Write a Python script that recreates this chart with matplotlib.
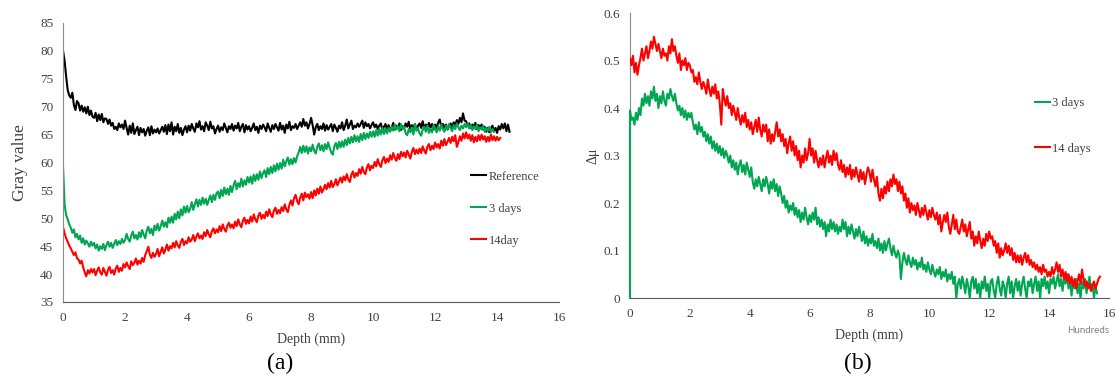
import numpy as np
import matplotlib
matplotlib.use("Agg")
import matplotlib.pyplot as plt
from matplotlib.ticker import MultipleLocator

plt.rcParams['font.family'] = ['Liberation Serif', 'DejaVu Serif']

# ---------------- data ----------------
DEPTH_STEP = 0.05   # mm between profile samples

# (a) gray value profiles (one row = 0.5 mm)
gray_reference = [
    80.0, 78.2, 75.4, 73.0, 72.0, 71.6, 72.5, 70.3, 69.4, 71.0,
    70.6, 69.3, 70.2, 69.1, 69.9, 68.8, 70.0, 68.5, 69.3, 68.2,
    68.0, 68.9, 67.4, 68.6, 67.6, 68.7, 67.2, 67.9, 67.8, 66.9,
    67.7, 66.6, 67.1, 66.0, 66.4, 65.8, 67.0, 66.3, 66.8, 66.0,
    67.5, 66.2, 65.0, 66.6, 65.3, 67.0, 65.1, 65.8, 66.4, 64.9,
    66.2, 65.4, 66.0, 64.8, 65.7, 66.3, 64.9, 66.5, 65.2, 65.9,
    65.4, 66.1, 65.2, 65.8, 66.4, 65.5, 66.7, 65.1, 66.8, 65.6,
    67.2, 65.0, 66.4, 65.6, 66.9, 65.3, 66.2, 64.9, 65.9, 66.5,
    65.4, 66.6, 65.7, 66.9, 66.1, 65.5, 67.0, 66.3, 67.4, 65.9,
    66.5, 65.6, 67.2, 66.6, 65.8, 67.3, 66.1, 66.5, 65.2, 66.0,
    66.6, 65.5, 66.3, 65.8, 67.0, 66.2, 65.4, 66.5, 66.0, 66.9,
    65.7, 66.6, 66.1, 67.1, 65.6, 66.4, 66.9, 65.4, 66.7, 65.9,
    66.5, 65.6, 66.2, 67.0, 65.8, 66.4, 65.3, 66.6, 66.0, 66.8,
    66.3, 65.6, 67.0, 66.2, 65.5, 66.7, 66.0, 66.9, 66.3, 65.7,
    67.1, 65.9, 66.6, 65.3, 66.8, 66.1, 67.3, 65.8, 66.5, 66.2,
    66.9, 66.0, 66.6, 67.2, 66.4, 67.8, 66.6, 67.2, 66.1, 66.9,
    68.0, 66.7, 65.0, 66.3, 66.9, 65.8, 66.5, 66.0, 67.0, 65.7,
    66.7, 65.9, 66.4, 66.9, 65.6, 66.8, 66.2, 65.5, 66.6, 66.1,
    67.2, 65.8, 66.6, 67.7, 66.1, 66.8, 67.5, 66.0, 66.6, 66.3,
    67.0, 66.4, 66.9, 67.5, 66.2, 67.2, 66.5, 66.9, 66.1, 66.7,
    67.2, 66.3, 66.8, 66.0, 66.6, 67.0, 65.8, 66.4, 66.9, 66.0,
    66.7, 65.7, 66.3, 67.1, 65.9, 66.6, 66.2, 67.0, 65.8, 66.5,
    66.2, 67.0, 66.4, 67.3, 65.9, 66.7, 66.1, 66.9, 65.8, 66.6,
    67.0, 66.2, 67.4, 66.0, 66.8, 66.4, 67.1, 66.2, 66.9, 65.9,
    66.8, 66.1, 67.2, 67.7, 66.3, 66.9, 66.2, 66.8, 65.9, 66.5,
    67.0, 66.3, 67.2, 66.6, 67.6, 66.9, 68.0, 67.2, 68.8, 67.5,
    67.4, 66.6, 67.0, 66.2, 66.8, 66.4, 67.1, 66.0, 66.7, 66.3,
    66.8, 65.9, 66.4, 65.5, 66.2, 65.4, 66.0, 66.6, 65.6, 66.2,
    65.3, 66.5, 65.9, 66.9, 66.1, 67.0, 65.6, 66.8, 65.5,
]
gray_3days = [
    59.2, 52.4, 50.6, 49.8, 48.9, 48.3, 47.4, 48.0, 46.6, 47.2,
    46.2, 46.9, 45.6, 46.4, 45.3, 46.0, 45.5, 44.9, 45.8, 45.1,
    45.6, 44.6, 45.3, 44.2, 45.0, 44.5, 45.4, 44.3, 45.2, 45.8,
    44.9, 45.6, 44.7, 45.4, 46.1, 45.2, 45.9, 45.4, 46.3, 45.6,
    46.1, 47.2, 46.3, 45.8, 46.9, 47.6, 46.4, 47.0, 46.2, 47.5,
    46.6, 47.9, 47.1, 46.4, 47.8, 48.5, 47.3, 48.1, 47.0, 48.7,
    47.9, 49.0, 47.8, 48.6, 49.6, 48.5, 49.3, 48.4, 50.1, 49.2,
    50.3, 49.2, 50.8, 49.8, 51.2, 50.0, 51.6, 50.5, 52.1, 51.0,
    52.2, 51.1, 51.7, 52.9, 51.5, 52.5, 53.4, 52.1, 53.3, 52.4,
    53.7, 52.6, 53.5, 52.4, 53.3, 54.1, 52.9, 54.2, 53.3, 54.5,
    54.8, 53.6, 55.1, 54.0, 55.5, 54.3, 55.3, 54.2, 55.8, 54.7,
    55.9, 56.7, 55.2, 56.3, 55.6, 57.1, 55.7, 56.8, 56.0, 57.4,
    56.4, 57.5, 56.2, 57.8, 56.7, 57.9, 56.9, 58.4, 57.2, 58.1,
    58.6, 57.4, 59.0, 57.9, 59.2, 58.1, 59.5, 58.4, 59.8, 58.7,
    59.9, 58.9, 60.5, 59.3, 60.2, 60.9, 59.6, 60.6, 59.7, 60.8,
    60.0, 61.1, 61.8, 62.8, 61.7, 63.0, 61.9, 62.9, 61.6, 62.7,
    62.0, 63.2, 62.1, 61.6, 62.8, 63.4, 62.2, 63.1, 62.0, 63.3,
    62.4, 63.6, 62.6, 61.8, 61.4, 62.9, 63.5, 62.4, 63.7, 62.7,
    63.8, 62.8, 64.1, 63.1, 64.4, 63.4, 64.6, 63.6, 64.9, 63.8,
    64.7, 63.7, 65.1, 64.0, 65.3, 64.2, 65.2, 64.4, 65.5, 64.6,
    65.6, 64.6, 65.8, 64.8, 66.0, 65.0, 66.2, 65.1, 66.1, 65.2,
    66.2, 65.5, 66.4, 65.7, 66.8, 65.9, 66.5, 65.6, 66.9, 66.0,
    66.4, 65.2, 64.9, 66.0, 65.4, 66.3, 65.0, 66.9, 65.7, 66.1,
    65.2, 64.8, 65.9, 66.4, 65.5, 66.6, 65.3, 66.0, 65.4, 66.7,
    66.1, 65.4, 66.5, 65.7, 66.8, 66.0, 65.5, 66.6, 65.9, 66.9,
    66.2, 65.6, 66.7, 66.0, 67.0, 66.3, 65.8, 66.6, 66.1, 66.9,
    66.3, 67.0, 66.1, 66.7, 65.8, 66.5, 66.0, 66.8, 65.6, 66.3,
    65.9, 66.6, 65.5, 66.2, 65.7, 66.4, 65.4, 66.0, 65.5,
]
gray_14day = [
    48.4, 47.3, 46.4, 45.8, 45.1, 44.6, 44.0, 43.4, 43.9, 42.8,
    42.6, 41.9, 42.4, 41.2, 40.3, 39.6, 40.7, 40.1, 40.9, 40.3,
    40.9, 39.8, 40.6, 41.2, 40.3, 39.9, 41.1, 40.4, 39.7, 40.8,
    41.3, 40.2, 40.7, 39.9, 41.0, 41.5, 40.4, 41.1, 40.6, 41.8,
    41.2, 42.1, 41.4, 40.9, 42.3, 41.6, 42.0, 42.8, 41.7, 42.4,
    41.9, 42.9, 42.2, 43.4, 44.1, 44.9, 43.5, 42.9, 43.8, 43.1,
    43.6, 44.5, 43.2, 44.0, 44.8, 43.7, 44.4, 45.3, 44.2, 45.0,
    44.6, 45.6, 44.8, 45.9, 45.1, 44.7, 45.8, 46.3, 45.2, 45.9,
    45.5, 46.6, 45.8, 46.2, 47.0, 45.9, 46.7, 47.3, 46.4, 46.9,
    46.3, 47.5, 46.8, 47.9, 47.1, 46.6, 47.7, 48.2, 47.3, 48.0,
    47.5, 48.6, 47.7, 48.9, 48.1, 47.6, 48.7, 49.2, 48.3, 48.9,
    48.2, 49.4, 48.6, 49.8, 48.9, 48.4, 49.6, 50.1, 49.0, 49.7,
    49.1, 50.3, 49.4, 50.7, 49.8, 49.3, 50.5, 51.0, 49.9, 50.6,
    50.0, 51.2, 50.4, 51.6, 50.7, 50.2, 51.4, 51.9, 50.8, 51.5,
    50.9, 52.0, 51.3, 52.5, 51.6, 51.1, 52.4, 53.2, 52.3, 53.6,
    54.2, 53.1, 52.5, 53.7, 54.4, 53.2, 54.6, 53.8, 54.3, 53.5,
    54.7, 53.6, 55.0, 54.1, 55.3, 54.4, 55.7, 54.6, 55.2, 56.0,
    55.2, 56.3, 55.5, 56.7, 55.6, 56.1, 57.0, 55.9, 56.6, 57.3,
    56.4, 57.5, 56.8, 57.9, 57.0, 56.5, 57.8, 58.4, 57.3, 58.1,
    57.6, 58.8, 58.0, 59.2, 58.3, 57.9, 59.1, 59.7, 58.6, 59.4,
    59.0, 60.1, 59.3, 60.6, 59.7, 59.2, 60.4, 61.0, 59.9, 60.7,
    60.1, 61.3, 60.5, 61.7, 60.8, 60.3, 61.5, 60.6, 61.9, 61.1,
    61.8, 60.9, 62.1, 61.4, 60.7, 61.9, 62.6, 61.5, 62.3, 61.6,
    62.5, 61.7, 62.9, 62.1, 61.6, 62.8, 63.3, 62.2, 63.0, 62.4,
    63.6, 62.7, 63.3, 62.5, 63.9, 63.0, 64.2, 63.1, 63.7, 64.4,
    63.5, 64.6, 63.8, 64.9, 62.8, 63.6, 64.7, 63.9, 65.2, 64.3,
    65.4, 64.3, 65.0, 63.9, 64.9, 63.6, 64.6, 63.8, 64.9, 64.0,
    65.0, 64.1, 64.7, 63.7, 64.6, 63.8, 65.0, 64.0, 64.7, 63.9,
    64.6, 64.0, 64.4,
]

# (b) attenuation difference profiles (one row = 0.5 mm)
dmu_3days = [
    0.395, 0.375, 0.38, 0.365, 0.39, 0.375, 0.40, 0.385, 0.42, 0.405,
    0.43, 0.41, 0.425, 0.405, 0.435, 0.42, 0.445, 0.415, 0.43, 0.40,
    0.425, 0.41, 0.435, 0.415, 0.405, 0.43, 0.42, 0.44, 0.425, 0.415,
    0.43, 0.41, 0.395, 0.405, 0.385, 0.40, 0.38, 0.395, 0.375, 0.39,
    0.38, 0.39, 0.37, 0.355, 0.365, 0.345, 0.37, 0.35, 0.36, 0.34,
    0.35, 0.33, 0.345, 0.325, 0.34, 0.315, 0.33, 0.31, 0.325, 0.305,
    0.32, 0.30, 0.315, 0.295, 0.31, 0.30, 0.285, 0.30, 0.275, 0.29,
    0.27, 0.285, 0.26, 0.28, 0.29, 0.265, 0.28, 0.26, 0.285, 0.27,
    0.255, 0.275, 0.245, 0.23, 0.25, 0.235, 0.255, 0.24, 0.225, 0.25,
    0.235, 0.255, 0.24, 0.22, 0.245, 0.23, 0.25, 0.225, 0.24, 0.215,
    0.235, 0.22, 0.20, 0.215, 0.19, 0.205, 0.18, 0.195, 0.185, 0.20,
    0.175, 0.19, 0.17, 0.185, 0.16, 0.18, 0.165, 0.19, 0.17, 0.155,
    0.175, 0.16, 0.18, 0.165, 0.19, 0.155, 0.17, 0.15, 0.165, 0.145,
    0.16, 0.13, 0.155, 0.14, 0.165, 0.145, 0.16, 0.14, 0.155, 0.135,
    0.15, 0.14, 0.165, 0.145, 0.16, 0.13, 0.15, 0.135, 0.155, 0.14,
    0.125, 0.145, 0.13, 0.15, 0.135, 0.12, 0.14, 0.115, 0.13, 0.11,
    0.125, 0.115, 0.135, 0.11, 0.12, 0.105, 0.125, 0.10, 0.115, 0.095,
    0.12, 0.10, 0.115, 0.125, 0.105, 0.09, 0.11, 0.095, 0.085, 0.10,
    0.09, 0.04, 0.075, 0.095, 0.08, 0.07, 0.09, 0.075, 0.065, 0.085,
    0.07, 0.08, 0.06, 0.075, 0.065, 0.085, 0.06, 0.07, 0.055, 0.075,
    0.06, 0.05, 0.07, 0.055, 0.045, 0.06, 0.05, 0.065, 0.04, 0.055,
    0.045, 0.06, 0.035, 0.05, 0.04, 0.055, 0.03, 0.045, 0.0, 0.03,
    0.04, 0.02, 0.045, 0.03, 0.01, 0.04, 0.025, 0.0, 0.035, 0.045,
    0.02, 0.04, 0.01, 0.03, 0.0, 0.035, 0.02, 0.045, 0.015, 0.03,
    0.0, 0.035, 0.04, 0.015, 0.0, 0.03, 0.045, 0.02, 0.005, 0.035,
    0.025, 0.0, 0.03, 0.045, 0.01, 0.035, 0.0, 0.025, 0.04, 0.015,
    0.035, 0.005, 0.03, 0.045, 0.02, 0.0, 0.035, 0.025, 0.04, 0.01,
    0.03, 0.045, 0.015, 0.035, 0.0, 0.04, 0.025, 0.045, 0.02, 0.035,
    0.01, 0.04, 0.03, 0.045, 0.02, 0.035, 0.05, 0.025, 0.04, 0.015,
    0.045, 0.03, 0.05, 0.02, 0.04, 0.005, 0.035, 0.02, 0.04, 0.01,
    0.03, 0.0, 0.035, 0.02, 0.04, 0.01, 0.03, 0.045, 0.015, 0.03,
    0.0, 0.025, 0.01,
]
dmu_14days = [
    0.505, 0.49, 0.51, 0.475, 0.495, 0.47, 0.49, 0.505, 0.525, 0.50,
    0.515, 0.53, 0.505, 0.52, 0.54, 0.525, 0.55, 0.535, 0.52, 0.535,
    0.52, 0.505, 0.525, 0.51, 0.515, 0.50, 0.53, 0.515, 0.545, 0.52,
    0.53, 0.51, 0.495, 0.515, 0.48, 0.50, 0.49, 0.505, 0.48, 0.495,
    0.49, 0.475, 0.48, 0.455, 0.465, 0.45, 0.475, 0.455, 0.44, 0.455,
    0.445, 0.43, 0.46, 0.44, 0.425, 0.445, 0.43, 0.45, 0.42, 0.435,
    0.41, 0.365, 0.44, 0.42, 0.405, 0.425, 0.40, 0.41, 0.385, 0.405,
    0.39, 0.375, 0.40, 0.38, 0.365, 0.385, 0.37, 0.39, 0.36, 0.375,
    0.355, 0.37, 0.345, 0.36, 0.375, 0.35, 0.38, 0.355, 0.34, 0.365,
    0.35, 0.365, 0.33, 0.355, 0.325, 0.345, 0.33, 0.35, 0.37, 0.34,
    0.355, 0.33, 0.345, 0.32, 0.335, 0.305, 0.325, 0.34, 0.31, 0.33,
    0.30, 0.32, 0.29, 0.31, 0.275, 0.30, 0.285, 0.315, 0.29, 0.305,
    0.335, 0.30, 0.315, 0.285, 0.31, 0.29, 0.275, 0.295, 0.28, 0.30,
    0.275, 0.295, 0.31, 0.285, 0.30, 0.28, 0.31, 0.29, 0.305, 0.28,
    0.27, 0.29, 0.265, 0.28, 0.255, 0.275, 0.26, 0.28, 0.25, 0.27,
    0.255, 0.275, 0.26, 0.245, 0.27, 0.25, 0.265, 0.24, 0.26, 0.275,
    0.265, 0.245, 0.27, 0.25, 0.235, 0.255, 0.22, 0.205, 0.23, 0.21,
    0.235, 0.22, 0.245, 0.225, 0.25, 0.235, 0.26, 0.24, 0.25, 0.225,
    0.245, 0.22, 0.235, 0.205, 0.22, 0.19, 0.21, 0.18, 0.20, 0.185,
    0.195, 0.175, 0.20, 0.185, 0.17, 0.19, 0.175, 0.195, 0.18, 0.165,
    0.185, 0.17, 0.19, 0.175, 0.165, 0.18, 0.155, 0.175, 0.14, 0.16,
    0.175, 0.16, 0.18, 0.15, 0.135, 0.155, 0.175, 0.145, 0.165, 0.14,
    0.135, 0.15, 0.165, 0.14, 0.155, 0.13, 0.145, 0.16, 0.125, 0.14,
    0.11, 0.13, 0.115, 0.14, 0.12, 0.105, 0.125, 0.11, 0.135, 0.12,
    0.14, 0.125, 0.13, 0.11, 0.12, 0.095, 0.115, 0.085, 0.105, 0.09,
    0.10, 0.115, 0.095, 0.11, 0.09, 0.105, 0.08, 0.095, 0.075, 0.09,
    0.075, 0.09, 0.07, 0.085, 0.095, 0.075, 0.09, 0.07, 0.08, 0.065,
    0.075, 0.06, 0.07, 0.055, 0.065, 0.05, 0.07, 0.055, 0.06, 0.045,
    0.055, 0.045, 0.065, 0.05, 0.06, 0.075, 0.055, 0.07, 0.045, 0.06,
    0.04, 0.055, 0.035, 0.05, 0.03, 0.045, 0.025, 0.04, 0.02, 0.035,
    0.05, 0.03, 0.06, 0.04, 0.025, 0.035, 0.02, 0.03, 0.015, 0.025,
    0.035, 0.02, 0.03, 0.04, 0.045,
]

x_ticks = [0, 2, 4, 6, 8, 10, 12, 14, 16]

BLACK = '#000000'
GREEN = '#00a651'
RED = '#ff0000'
TXT = '#404040'
LW = 1.5


def depth(values):
    return np.arange(len(values)) * DEPTH_STEP


def style_axes(ax):
    for s in ('top', 'right'):
        ax.spines[s].set_visible(False)
    ax.spines['left'].set_color('#8c8c8c')
    ax.spines['bottom'].set_color('#595959')
    ax.tick_params(length=0, labelsize=9.5, colors=TXT, pad=7)
    ax.set_xlim(0, 16)
    ax.set_xticks(x_ticks)


fig = plt.figure(figsize=(11.16, 3.83), dpi=100)

# ---------------- (a) ----------------
ax1 = fig.add_axes([0.0565, 0.2115, 0.4445, 0.7285])
ax1.plot(depth(gray_reference), gray_reference, color=BLACK, lw=LW, label='Reference')
ax1.plot(depth(gray_3days), gray_3days, color=GREEN, lw=LW, label='3 days')
ax1.plot(depth(gray_14day), gray_14day, color=RED, lw=LW, label='14day')
style_axes(ax1)
ax1.set_ylim(35, 85)
ax1.yaxis.set_major_locator(MultipleLocator(5))
ax1.set_ylabel('Gray value', fontsize=12.5, color=TXT, labelpad=9)
ax1.set_xlabel('Depth (mm)', fontsize=10, color=TXT, labelpad=6)
ax1.legend(loc='upper left', bbox_to_anchor=(0.4165, 0.571), bbox_transform=fig.transFigure,
           frameon=False, fontsize=9, handlelength=1.2, handletextpad=0.2,
           labelspacing=1.6, borderpad=0, labelcolor=TXT)

# ---------------- (b) ----------------
ax2 = fig.add_axes([0.5645, 0.2219, 0.4292, 0.7441])
# green profile rises from zero right at the surface
ax2.plot(np.concatenate([[0.0], depth(dmu_3days)]), [0.0] + dmu_3days,
         color=GREEN, lw=LW, label='3 days', zorder=3, clip_on=False)
ax2.plot(depth(dmu_14days), dmu_14days, color=RED, lw=LW, label='14 days', zorder=3)
style_axes(ax2)
ax2.set_ylim(0, 0.6)
ax2.yaxis.set_major_locator(MultipleLocator(0.1))
ax2.yaxis.set_major_formatter(plt.FuncFormatter(lambda v, p: '0' if v == 0 else f'{v:.1f}'))
ax2.set_ylabel('Δμ', fontsize=10, color=TXT, labelpad=3)
ax2.set_xlabel('Depth (mm)', fontsize=10, color=TXT, labelpad=6)
ax2.legend(loc='upper left', bbox_to_anchor=(0.9215, 0.763), bbox_transform=fig.transFigure,
           frameon=False, fontsize=9, handlelength=1.2, handletextpad=0.2,
           labelspacing=2.7, borderpad=0, labelcolor=TXT)
fig.text(0.975, 0.138, 'Hundreds', fontsize=7, color='#7f7f7f', ha='center',
         va='center', family=['Lato', 'DejaVu Sans'])

# panel captions
fig.text(0.251, 0.052, '(a)', fontsize=17, ha='center', va='center', color='black')
fig.text(0.769, 0.052, '(b)', fontsize=17, ha='center', va='center', color='black')

fig.savefig('out.png', dpi=100)
